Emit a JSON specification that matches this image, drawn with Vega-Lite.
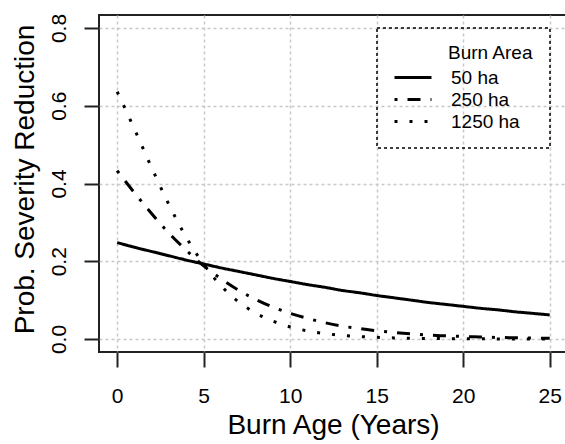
{
  "$schema": "https://vega.github.io/schema/vega-lite/v6.json",
  "width": 468,
  "height": 337,
  "autosize": {"type": "none"},
  "padding": {"left": 99, "top": 15, "right": 0, "bottom": 92},
  "background": "white",
  "config": {
    "font": "Liberation Sans",
    "view": {"stroke": "#222222", "strokeWidth": 2}
  },
  "data": {
    "values": [
      {"age": 0, "area": "50 ha", "p": 0.248}, {"age": 1, "area": "50 ha", "p": 0.236}, {"age": 2, "area": "50 ha", "p": 0.225}, {"age": 3, "area": "50 ha", "p": 0.214}, {"age": 4, "area": "50 ha", "p": 0.203}, {"age": 5, "area": "50 ha", "p": 0.193}, {"age": 6, "area": "50 ha", "p": 0.183}, {"age": 7, "area": "50 ha", "p": 0.174}, {"age": 8, "area": "50 ha", "p": 0.165}, {"age": 9, "area": "50 ha", "p": 0.156}, {"age": 10, "area": "50 ha", "p": 0.148}, {"age": 11, "area": "50 ha", "p": 0.140}, {"age": 12, "area": "50 ha", "p": 0.133}, {"age": 13, "area": "50 ha", "p": 0.125}, {"age": 14, "area": "50 ha", "p": 0.119}, {"age": 15, "area": "50 ha", "p": 0.112}, {"age": 16, "area": "50 ha", "p": 0.106}, {"age": 17, "area": "50 ha", "p": 0.100}, {"age": 18, "area": "50 ha", "p": 0.094}, {"age": 19, "area": "50 ha", "p": 0.089}, {"age": 20, "area": "50 ha", "p": 0.084}, {"age": 21, "area": "50 ha", "p": 0.079}, {"age": 22, "area": "50 ha", "p": 0.075}, {"age": 23, "area": "50 ha", "p": 0.070}, {"age": 24, "area": "50 ha", "p": 0.066}, {"age": 25, "area": "50 ha", "p": 0.062},
      {"age": 0, "area": "250 ha", "p": 0.433}, {"age": 1, "area": "250 ha", "p": 0.376}, {"age": 2, "area": "250 ha", "p": 0.322}, {"age": 3, "area": "250 ha", "p": 0.272}, {"age": 4, "area": "250 ha", "p": 0.228}, {"age": 5, "area": "250 ha", "p": 0.188}, {"age": 6, "area": "250 ha", "p": 0.155}, {"age": 7, "area": "250 ha", "p": 0.126}, {"age": 8, "area": "250 ha", "p": 0.102}, {"age": 9, "area": "250 ha", "p": 0.082}, {"age": 10, "area": "250 ha", "p": 0.066}, {"age": 11, "area": "250 ha", "p": 0.053}, {"age": 12, "area": "250 ha", "p": 0.042}, {"age": 13, "area": "250 ha", "p": 0.033}, {"age": 14, "area": "250 ha", "p": 0.027}, {"age": 15, "area": "250 ha", "p": 0.021}, {"age": 16, "area": "250 ha", "p": 0.017}, {"age": 17, "area": "250 ha", "p": 0.013}, {"age": 18, "area": "250 ha", "p": 0.010}, {"age": 19, "area": "250 ha", "p": 0.0082}, {"age": 20, "area": "250 ha", "p": 0.0065}, {"age": 21, "area": "250 ha", "p": 0.0051}, {"age": 22, "area": "250 ha", "p": 0.0040}, {"age": 23, "area": "250 ha", "p": 0.0032}, {"age": 24, "area": "250 ha", "p": 0.0025}, {"age": 25, "area": "250 ha", "p": 0.0020},
      {"age": 0, "area": "1250 ha", "p": 0.636}, {"age": 1, "area": "1250 ha", "p": 0.540}, {"age": 2, "area": "1250 ha", "p": 0.440}, {"age": 3, "area": "1250 ha", "p": 0.345}, {"age": 4, "area": "1250 ha", "p": 0.261}, {"age": 5, "area": "1250 ha", "p": 0.192}, {"age": 6, "area": "1250 ha", "p": 0.137}, {"age": 7, "area": "1250 ha", "p": 0.096}, {"age": 8, "area": "1250 ha", "p": 0.067}, {"age": 9, "area": "1250 ha", "p": 0.046}, {"age": 10, "area": "1250 ha", "p": 0.031}, {"age": 11, "area": "1250 ha", "p": 0.021}, {"age": 12, "area": "1250 ha", "p": 0.014}, {"age": 13, "area": "1250 ha", "p": 0.0096}, {"age": 14, "area": "1250 ha", "p": 0.0064}, {"age": 15, "area": "1250 ha", "p": 0.0043}, {"age": 16, "area": "1250 ha", "p": 0.0029}, {"age": 17, "area": "1250 ha", "p": 0.0019}, {"age": 18, "area": "1250 ha", "p": 0.0013}, {"age": 19, "area": "1250 ha", "p": 0.0009}, {"age": 20, "area": "1250 ha", "p": 0.0006}, {"age": 21, "area": "1250 ha", "p": 0.0004}, {"age": 22, "area": "1250 ha", "p": 0.0003}, {"age": 23, "area": "1250 ha", "p": 0.0002}, {"age": 24, "area": "1250 ha", "p": 0.0001}, {"age": 25, "area": "1250 ha", "p": 0.0001}
    ]
  },
  "mark": {"type": "line", "color": "black", "strokeWidth": 3, "interpolate": "monotone", "strokeCap": "butt", "clip": true},
  "encoding": {
    "x": {
      "field": "age", "type": "quantitative",
      "scale": {"domain": [-1.05, 26], "nice": false, "zero": false},
      "axis": {
        "values": [0, 5, 10, 15, 20, 25], "format": "d",
        "grid": true, "gridColor": "#c8c8c8", "gridDash": [3, 3], "gridWidth": 1.5,
        "domain": false, "tickSize": 15, "tickColor": "#222222", "tickWidth": 2,
        "labelFontSize": 21, "labelPadding": 18, "labelColor": "black", "labelFlush": false, "labelOverlap": false,
        "title": "Burn Age (Years)", "titleFontSize": 28, "titleFontWeight": "normal", "titleColor": "black",
        "titleBaseline": "alphabetic", "titleY": 81
      }
    },
    "y": {
      "field": "p", "type": "quantitative",
      "scale": {"domain": [-0.0334, 0.8334], "nice": false, "zero": false},
      "axis": {
        "values": [0, 0.2, 0.4, 0.6, 0.8], "format": ".1f",
        "grid": true, "gridColor": "#c8c8c8", "gridDash": [3, 3], "gridWidth": 1.5,
        "domain": false, "tickSize": 15, "tickColor": "#222222", "tickWidth": 2,
        "labelFontSize": 21, "labelPadding": 19, "labelColor": "black", "labelAngle": -90, "labelAlign": "center", "labelBaseline": "alphabetic", "labelFlush": false, "labelOverlap": false,
        "title": "Prob. Severity Reduction", "titleFontSize": 28, "titleFontWeight": "normal", "titleColor": "black",
        "titleAngle": -90, "titleBaseline": "alphabetic", "titleAlign": "center", "titleX": -66, "titleY": 164
      }
    },
    "strokeDash": {
      "field": "area", "type": "nominal",
      "scale": {"domain": ["50 ha", "250 ha", "1250 ha"], "range": [[1, 0], [3, 10, 13, 10], [3, 12]]},
      "legend": {
        "orient": "none", "legendX": 278, "legendY": 13,
        "title": "Burn Area", "titleFontSize": 19, "titleFontWeight": "normal", "titleColor": "black", "titlePadding": 5,
        "labelFontSize": 19, "labelColor": "black", "labelOffset": 18,
        "symbolType": "stroke", "symbolSize": 1369, "symbolStrokeWidth": 3, "symbolStrokeColor": "black",
        "clipHeight": 19, "rowPadding": 2, "padding": 16,
        "strokeColor": "black",
        "encode": {
          "title": {"update": {"dx": {"value": 55}}},
          "legend": {"update": {"strokeDash": {"value": [3, 3]}, "strokeWidth": {"value": 1.5}}}
        }
      }
    }
  }
}
